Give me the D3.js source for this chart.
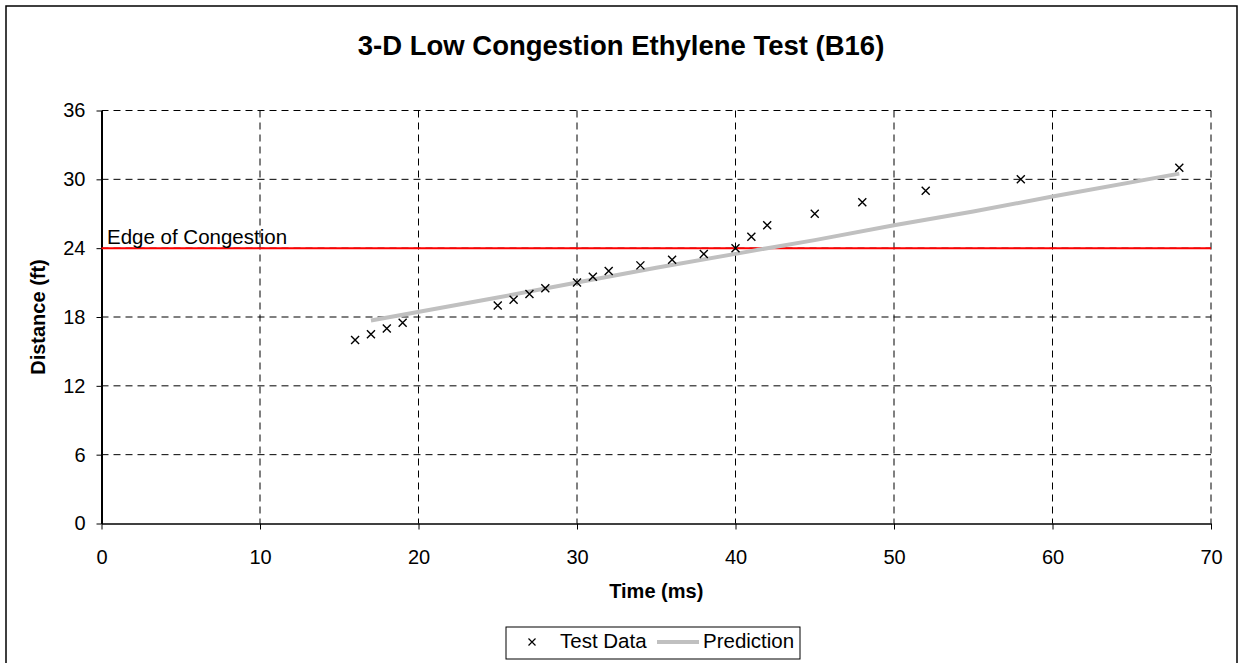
<!DOCTYPE html>
<html>
<head>
<meta charset="utf-8">
<script src="https://cdn.jsdelivr.net/npm/d3@7"></script>
<style>
  body { margin: 0; background: #fff; }
  text { font-family: "Liberation Sans", Arial, sans-serif; }
</style>
</head>
<body>
<svg width="1241" height="663"></svg>
<script>
// test data (time ms, distance ft)
const testTime = [16, 17, 18, 19, 25, 26, 27, 28, 30, 31, 32, 34, 36, 38, 40, 41, 42, 45, 48, 52, 58, 68];
const testDist = [16, 16.5, 17, 17.5, 19, 19.5, 20, 20.5, 21, 21.5, 22, 22.5, 23, 23.5, 24, 25, 26, 27, 28, 29, 30, 31];
// prediction curve
const predTime = [17, 25, 30, 35, 40, 42, 45, 50, 55, 60, 68];
const predDist = [17.7, 19.7, 21.0, 22.3, 23.5, 24.0, 24.7, 26.0, 27.2, 28.5, 30.5];
const edgeDist = 24;
const xTicks = [0, 10, 20, 30, 40, 50, 60, 70];
const yTicks = [0, 6, 12, 18, 24, 30, 36];

const svg = d3.select("svg");
const width = +svg.attr("width");
const height = +svg.attr("height");

// outer chart frame
svg.append("rect")
  .attr("x", 6).attr("y", 6)
  .attr("width", 1231).attr("height", 670)
  .attr("fill", "none").attr("stroke", "#000").attr("stroke-width", 1.5);

const pLeft = 101.5, pRight = 1211, pTop = 110.5, pBottom = 523.5;
const x = d3.scaleLinear().domain([0, 70]).range([pLeft, pRight]);
const y = d3.scaleLinear().domain([0, 36]).range([pBottom, pTop]);

svg.append("text")
  .attr("x", 621).attr("y", 54.5)
  .attr("text-anchor", "middle")
  .attr("font-size", 27.5).attr("font-weight", "bold")
  .text("3-D Low Congestion Ethylene Test (B16)");

// grid
const grid = svg.append("g").attr("stroke", "#000").attr("stroke-width", 1).attr("stroke-dasharray", "7,5");
grid.selectAll(".gx").data(xTicks.slice(1)).enter().append("line")
  .attr("x1", d => x(d)).attr("x2", d => x(d))
  .attr("y1", pTop).attr("y2", pBottom);
grid.selectAll(".gy").data(yTicks.slice(1)).enter().append("line")
  .attr("x1", pLeft).attr("x2", pRight)
  .attr("y1", d => y(d)).attr("y2", d => y(d));

// axes
const xAxis = svg.append("g")
  .attr("transform", `translate(0,${pBottom})`)
  .call(d3.axisBottom(x).tickValues(xTicks).tickSizeInner(6).tickSizeOuter(0).tickPadding(20));
const yAxis = svg.append("g")
  .attr("transform", `translate(${pLeft},0)`)
  .call(d3.axisLeft(y).tickValues(yTicks).tickSizeInner(5).tickSizeOuter(0).tickPadding(11));
[xAxis, yAxis].forEach(a => {
  a.selectAll("text").attr("font-size", 20).attr("fill", "#000")
    .attr("font-family", "'Liberation Sans', Arial, sans-serif");
  a.selectAll("line").attr("stroke", "#000");
});
xAxis.select(".domain").attr("stroke", "#000").attr("stroke-width", 1.5);
yAxis.select(".domain").attr("stroke", "#000").attr("stroke-width", 2);

// edge of congestion
svg.append("line")
  .attr("x1", pLeft).attr("x2", pRight)
  .attr("y1", y(edgeDist)).attr("y2", y(edgeDist))
  .attr("stroke", "#ff0000").attr("stroke-width", 2);
svg.append("text")
  .attr("x", 107).attr("y", y(edgeDist) - 4)
  .attr("font-size", 20.5)
  .text("Edge of Congestion");

// prediction line
const pred = predTime.map((t, i) => [t, predDist[i]]);
svg.append("path")
  .datum(pred)
  .attr("d", d3.line().x(d => x(d[0])).y(d => y(d[1])))
  .attr("fill", "none").attr("stroke", "#c0c0c0").attr("stroke-width", 4);

// test data markers
const s = 4;
const marks = svg.append("g").attr("stroke", "#000").attr("stroke-width", 1.4);
testTime.forEach((t, i) => {
  const cx = x(t), cy = y(testDist[i]);
  marks.append("path")
    .attr("d", `M${cx - s},${cy - s}L${cx + s},${cy + s}M${cx - s},${cy + s}L${cx + s},${cy - s}`);
});

// axis titles
svg.append("text")
  .attr("x", (pLeft + pRight) / 2).attr("y", 598)
  .attr("text-anchor", "middle").attr("font-size", 20).attr("font-weight", "bold")
  .text("Time (ms)");
svg.append("text")
  .attr("transform", `translate(45,${(pTop + pBottom) / 2}) rotate(-90)`)
  .attr("text-anchor", "middle").attr("font-size", 20).attr("font-weight", "bold")
  .text("Distance (ft)");

// legend
const lg = svg.append("g");
lg.append("rect")
  .attr("x", 506).attr("y", 627).attr("width", 294).attr("height", 32)
  .attr("fill", "#fff").attr("stroke", "#000").attr("stroke-width", 1);
const lx = 532, ly = 642;
lg.append("path")
  .attr("d", `M${lx - 3.5},${ly - 3.5}L${lx + 3.5},${ly + 3.5}M${lx - 3.5},${ly + 3.5}L${lx + 3.5},${ly - 3.5}`)
  .attr("stroke", "#000").attr("stroke-width", 1.2);
lg.append("text").attr("x", 560).attr("y", 648).attr("font-size", 20.5).text("Test Data");
lg.append("line")
  .attr("x1", 657).attr("x2", 699).attr("y1", ly).attr("y2", ly)
  .attr("stroke", "#c0c0c0").attr("stroke-width", 4);
lg.append("text").attr("x", 703).attr("y", 648).attr("font-size", 20.5).text("Prediction");
</script>
</body>
</html>
